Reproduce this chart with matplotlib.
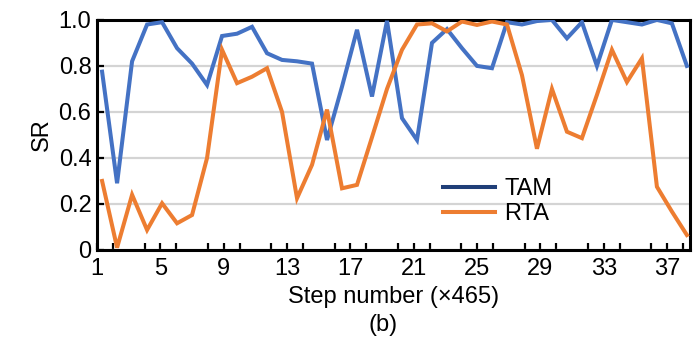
import numpy as np
import matplotlib
matplotlib.use("Agg")
import matplotlib.pyplot as plt
from matplotlib.lines import Line2D
from matplotlib.ticker import MultipleLocator

plt.rcParams['font.family'] = ['Liberation Sans', 'DejaVu Sans']

# ---- data ----
n_points = 40
steps = np.linspace(1.32, 38.25, n_points)   # 40 samples spread over steps 1..38

tam = [0.775, 0.29, 0.82, 0.98, 0.99, 0.877, 0.81, 0.717, 0.93, 0.94,
       0.97, 0.855, 0.826, 0.82, 0.81, 0.478, 0.71, 0.957, 0.667, 0.996,
       0.573, 0.478, 0.90, 0.96, 0.877, 0.80, 0.79, 0.99, 0.98, 0.995,
       1.0, 0.92, 0.99, 0.80, 1.0, 0.99, 0.98, 1.0, 0.985, 0.80]

rta = [0.30, 0.01, 0.24, 0.087, 0.203, 0.116, 0.152, 0.40, 0.87, 0.725,
       0.753, 0.79, 0.60, 0.225, 0.37, 0.61, 0.268, 0.283, 0.49, 0.70,
       0.87, 0.98, 0.985, 0.95, 0.993, 0.978, 0.993, 0.98, 0.76, 0.44,
       0.70, 0.514, 0.486, 0.674, 0.87, 0.73, 0.833, 0.275, 0.167, 0.065]

xtick_labels = [1, 5, 9, 13, 17, 21, 25, 29, 33, 37]
ytick_vals = [0, 0.2, 0.4, 0.6, 0.8, 1.0]
ytick_labels = ['0', '0.2', '0.4', '0.6', '0.8', '1.0']

blue = '#4472C4'
orange = '#ED7D31'
fs = 17

fig = plt.figure(figsize=(6.93, 3.46), dpi=100)
ax = fig.add_axes([0.14, 0.2775, 0.856, 0.665])

ax.plot(steps, tam, color=blue, lw=2.9, solid_joinstyle='miter', zorder=3)
ax.plot(steps, rta, color=orange, lw=2.9, solid_joinstyle='miter', zorder=3)

ax.set_xlim(1, 38.46)
ax.set_ylim(0, 1.0)
ax.set_xticks(xtick_labels)
ax.set_xticklabels([str(v) for v in xtick_labels], fontsize=fs)
ax.xaxis.set_minor_locator(MultipleLocator(2))
ax.set_yticks(ytick_vals)
ax.set_yticklabels(ytick_labels, fontsize=fs)

ax.yaxis.grid(True, color='#d4d4d4', lw=1.6)
ax.set_axisbelow(True)
ax.tick_params(axis='both', which='both', direction='in', width=1.6, color='black')
ax.tick_params(axis='x', which='both', length=5, pad=6)
ax.tick_params(axis='y', which='major', length=5, pad=4)
for sp in ax.spines.values():
    sp.set_linewidth(2.2)
    sp.set_color('black')

ax.set_ylabel('SR', fontsize=fs, labelpad=4)
ax.set_xlabel('Step number (\u00d7465)', fontsize=fs, labelpad=4)
fig.text(0.553, 0.06, '(b)', fontsize=fs, ha='center', va='center')

handles = [Line2D([], [], color='#203f78', lw=2.9),
           Line2D([], [], color=orange, lw=2.9)]
ax.legend(handles, ['TAM', 'RTA'], loc='center', bbox_to_anchor=(0.675, 0.21),
          frameon=False, fontsize=fs, handlelength=2.2, handletextpad=0.4,
          labelspacing=0.15)

fig.savefig('out.png', dpi=100)
